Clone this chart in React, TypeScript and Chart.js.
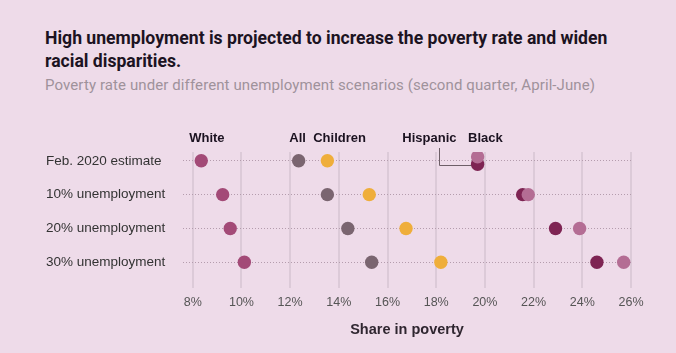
import React, { useEffect, useRef } from "react";
import { Chart, registerables } from "chart.js";

Chart.register(...registerables);

// ---- Data ----
const rows = ["Feb. 2020 estimate", "10% unemployment", "20% unemployment", "30% unemployment"];
const white = [8.35, 9.23, 9.54, 10.12];
const all = [12.35, 13.53, 14.37, 15.35];
const children = [13.53, 15.25, 16.76, 18.19];
const hispanic = [19.7, 21.55, 22.9, 24.6];
const black = [19.7, 21.78, 23.89, 25.7];
const xTicks = [8, 10, 12, 14, 16, 18, 20, 22, 24, 26];
// small vertical offsets (in rows) used where Hispanic and Black overlap
const hispanicNudge = [0.1, 0, 0, 0];
const blackNudge = [-0.12, 0, 0, 0];

// ---- Styling ----
const COLORS = {
  white: "#a34a77",
  all: "#7a6570",
  children: "#efae3b",
  hispanic: "#7e2453",
  black: "#b46d94",
};
const BG = "#eedbe9";

const seriesLabels = [
  { text: "White", at: 8.58 },
  { text: "All", at: 12.31 },
  { text: "Children", at: 14.03 },
  { text: "Hispanic", at: 17.72 },
  { text: "Black", at: 20.02 },
];

function pts(vals: number[], nudge?: number[]) {
  return vals.map((v, i) => ({ x: v, y: i + (nudge ? nudge[i] : 0) }));
}

const labelPlugin = {
  id: "seriesLabels",
  beforeDatasetsDraw(chart: any) {
    const { ctx, scales, chartArea } = chart;
    const xs = scales.x;
    const ys = scales.y;
    // leader line from Hispanic label to Hispanic dot
    const lx = xs.getPixelForValue(18.13);
    const rowY = ys.getPixelForValue(0) + 4.3;
    ctx.save();
    ctx.strokeStyle = "#6d5e67";
    ctx.lineWidth = 1;
    ctx.beginPath();
    ctx.moveTo(Math.round(lx) + 0.5, chartArea.top - 4);
    ctx.lineTo(Math.round(lx) + 0.5, Math.round(rowY) + 0.5);
    ctx.lineTo(xs.getPixelForValue(hispanic[0]), Math.round(rowY) + 0.5);
    ctx.stroke();
    ctx.restore();
  },
  afterDatasetsDraw(chart: any) {
    const { ctx, scales, chartArea } = chart;
    ctx.save();
    ctx.font = "bold 13px 'Liberation Sans', Arial, sans-serif";
    ctx.fillStyle = "#1b1220";
    ctx.textAlign = "center";
    ctx.textBaseline = "middle";
    seriesLabels.forEach((l) => {
      ctx.fillText(l.text, scales.x.getPixelForValue(l.at), chartArea.top - 13.7);
    });
    ctx.restore();
  },
};

export default function App() {
  const ref = useRef<HTMLCanvasElement | null>(null);

  useEffect(() => {
    document.body.style.margin = "0";
    document.body.style.background = BG;
    if (!ref.current) return;
    const mk = (label: string, vals: number[], color: string, order: number, nudge?: number[]) => ({
      label,
      data: pts(vals, nudge),
      backgroundColor: color,
      borderColor: color,
      borderWidth: 0,
      pointRadius: 6.7,
      pointHoverRadius: 6.7,
      order,
    });
    const chart = new Chart(ref.current, {
      type: "scatter",
      data: {
        datasets: [
          mk("Black", black, COLORS.black, 0, blackNudge),
          mk("Hispanic", hispanic, COLORS.hispanic, 1, hispanicNudge),
          mk("Children", children, COLORS.children, 2),
          mk("All", all, COLORS.all, 3),
          mk("White", white, COLORS.white, 4),
        ],
      },
      options: {
        animation: false,
        responsive: true,
        maintainAspectRatio: false,
        layout: { padding: { left: 46, right: 45, top: 52, bottom: 0 } },
        plugins: { legend: { display: false }, tooltip: { enabled: false } },
        scales: {
          x: {
            type: "linear",
            min: 7.6,
            max: 26,
            afterBuildTicks: (s: any) => {
              s.ticks = xTicks.map((v) => ({ value: v }));
            },
            afterFit: (s: any) => {
              s.height = 65;
            },
            grid: { color: "#dccad8", lineWidth: 2, drawTicks: false },
            border: { display: false },
            ticks: {
              padding: 7,
              color: "#555",
              font: { size: 12.5, family: "'Liberation Sans', Arial, sans-serif" },
              callback: (v: any) => v + "%",
            },
            title: {
              display: true,
              text: "Share in poverty",
              color: "#2f2630",
              font: { size: 14.5, weight: "bold", family: "'Liberation Sans', Arial, sans-serif" },
              padding: { top: 0, bottom: 14 },
            },
          },
          y: {
            type: "linear",
            reverse: true,
            min: -0.26,
            max: 3.76,
            afterBuildTicks: (s: any) => {
              s.ticks = rows.map((_, i) => ({ value: i }));
            },
            afterFit: (s: any) => {
              s.width = 137;
            },
            grid: { color: "#b49cad", lineWidth: 1, drawTicks: false },
            border: { display: false, dash: [1, 2] },
            ticks: {
              crossAlign: "far",
              padding: 0,
              color: "#333",
              font: { size: 13.5, family: "'Liberation Sans', Arial, sans-serif" },
              callback: (v: any) => rows[v as number] ?? "",
            },
          },
        },
      },
      plugins: [labelPlugin],
    } as any);
    return () => chart.destroy();
  }, []);

  return (
    <div style={{ position: "relative", width: 676, height: 353, background: BG, overflow: "hidden" }}>
      <div
        style={{
          position: "absolute",
          left: 45,
          top: 27,
          width: 575,
          fontFamily: "Roboto, 'Liberation Sans', sans-serif",
          fontWeight: 700,
          fontSize: 17.6,
          lineHeight: "23px",
          color: "#1c1322",
          letterSpacing: "0px",
        }}
      >
        High unemployment is projected to increase the poverty rate and widen racial disparities.
      </div>
      <div
        style={{
          position: "absolute",
          left: 45,
          top: 75,
          whiteSpace: "nowrap",
          fontFamily: "Roboto, 'Liberation Sans', sans-serif",
          fontSize: 15,
          lineHeight: "20px",
          color: "#9f929b",
          letterSpacing: "0.1px",
        }}
      >
        Poverty rate under different unemployment scenarios (second quarter, April-June)
      </div>
      <div style={{ position: "absolute", left: 0, top: 100, width: 676, height: 253 }}>
        <canvas ref={ref} />
      </div>
    </div>
  );
}
